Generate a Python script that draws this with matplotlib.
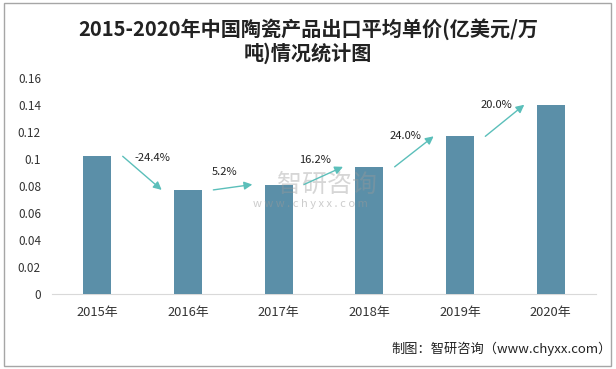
import matplotlib
matplotlib.use("Agg")
import matplotlib.pyplot as plt
from matplotlib.patches import Rectangle

plt.rcParams['font.family'] = ['Noto Sans CJK SC', 'DejaVu Sans']

# Données du graphique
years = ["2015年", "2016年", "2017年", "2018年", "2019年", "2020年"]
prices = [0.102, 0.0771, 0.0811, 0.0942, 0.1168, 0.1402]
growth_labels = ["-24.4%", "5.2%", "16.2%", "24.0%", "20.0%"]

bar_color = "#5b8fa8"
arrow_color = "#5bbfba"

fig = plt.figure(figsize=(6.16, 3.69), dpi=100)
ax = fig.add_axes([0.0844, 0.2033, 0.883, 0.5853])

x = list(range(len(years)))
ax.bar(x, prices, width=0.31, color=bar_color, zorder=3)

# Flèches de croissance entre les barres
for i, lab in enumerate(growth_labels):
    ax.annotate("", xy=(i + 0.71, prices[i + 1]), xytext=(i + 0.28, prices[i]),
                arrowprops=dict(arrowstyle="-|>", color=arrow_color, lw=1.0,
                                mutation_scale=12, shrinkA=0, shrinkB=0),
                zorder=4)
    mid = (prices[i] + prices[i + 1]) / 2
    lx = i + (0.61 if prices[i + 1] < prices[i] else 0.40)
    ax.text(lx, mid + 0.0115, lab, ha="center", va="center",
            fontsize=8, color="#222222", zorder=5)

ax.set_xlim(-0.5, len(years) - 0.5)
ax.set_ylim(0, 0.16)
ax.set_yticks([0, 0.02, 0.04, 0.06, 0.08, 0.1, 0.12, 0.14, 0.16])
ax.set_yticklabels(["0", "0.02", "0.04", "0.06", "0.08", "0.1", "0.12", "0.14", "0.16"])
ax.set_xticks(x)
ax.set_xticklabels(years)
ax.tick_params(axis="both", length=0, labelsize=8.5, colors="#333333")
ax.tick_params(axis="x", pad=9, labelsize=9.3)
ax.tick_params(axis="y", pad=8)
for s in ["top", "right", "left"]:
    ax.spines[s].set_visible(False)
ax.spines["bottom"].set_color("#d9d9d9")

# Filigrane
ax.text(0.505, 0.505, "智研咨询", transform=ax.transAxes, ha="center", va="center",
        fontsize=18, color="#9a9a9a", alpha=0.4, zorder=3.5)
ax.text(0.475, 0.415, "w w w . c h y x x . c o m", transform=ax.transAxes,
        ha="center", va="center", fontsize=8, color="#9a9a9a", alpha=0.5, zorder=3.5)

fig.text(0.5, 0.92, "2015-2020年中国陶瓷产品出口平均单价(亿美元/万", ha="center",
         va="center", fontsize=14.5, fontweight="bold", color="#222222")
fig.text(0.5, 0.857, "吨)情况统计图", ha="center", va="center", fontsize=14.5,
         fontweight="bold", color="#222222")
fig.text(0.993, 0.054, "制图：智研咨询（www.chyxx.com）", ha="right", va="center",
         fontsize=9.5, color="#222222")

fig.add_artist(Rectangle((0.007, 0.008), 0.985, 0.984, transform=fig.transFigure,
                         fill=False, edgecolor="#a6a6a6", lw=1.0))

fig.savefig("out.png", dpi=100)
